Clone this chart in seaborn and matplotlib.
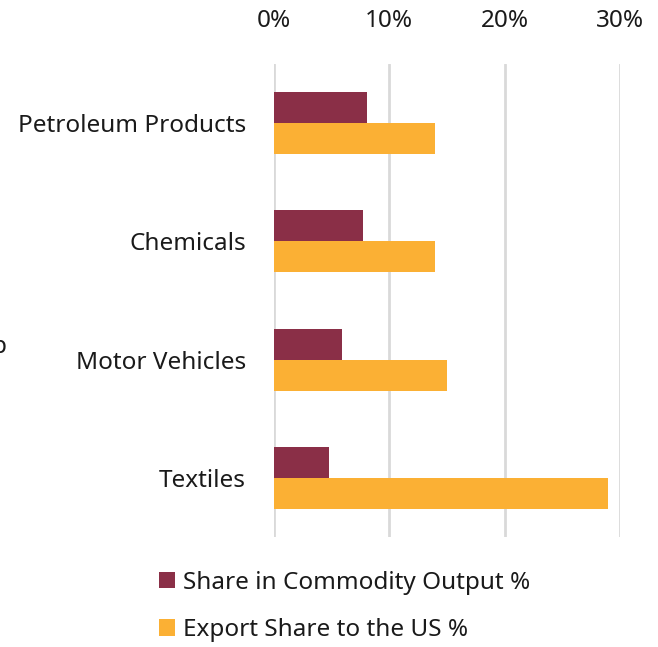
import matplotlib
matplotlib.use("Agg")
import matplotlib.pyplot as plt
import seaborn as sns
import pandas as pd
from matplotlib.patches import Patch
from matplotlib.ticker import FuncFormatter

categories = ["Petroleum Products", "Chemicals", "Motor Vehicles", "Textiles"]
series_names = ["Share in Commodity Output %", "Export Share to the US %"]
commodity_output = [8.1, 7.7, 5.9, 4.8]
export_us = [14.0, 14.0, 15.0, 29.0]
x_ticks = [0, 10, 20, 30]
colors = ["#8A2F47", "#FBB034"]

df = pd.DataFrame({
    "category": categories * 2,
    "series": [series_names[0]] * 4 + [series_names[1]] * 4,
    "value": commodity_output + export_us,
})

sns.set_theme(style="white")
plt.rcParams["font.family"] = ["Noto Sans", "DejaVu Sans"]

fig = plt.figure(figsize=(6.58, 6.47), dpi=100)
ax = fig.add_axes([274 / 658, 1 - 537 / 647, (620 - 274) / 658, (537 - 64) / 647])

sns.barplot(data=df, y="category", x="value", hue="series", order=categories,
            hue_order=series_names, palette=colors, orient="h", width=0.525,
            ax=ax, legend=False, saturation=1, linewidth=0)

ax.set_xlim(0, 30)
ax.set_ylim(3.5, -0.5)
ax.set_xticks(x_ticks)
ax.xaxis.tick_top()
ax.xaxis.set_major_formatter(FuncFormatter(lambda v, p: f"{v:.0f}%"))
ax.tick_params(axis="x", length=0, pad=22, labelsize=17.5, colors="#1a1a1a")
ax.tick_params(axis="y", length=0, pad=20, labelsize=17.5, colors="#1a1a1a")
ax.set_xlabel("")
ax.set_ylabel("")
ax.grid(axis="x", color="#d9d9d9", linewidth=2)
ax.set_axisbelow(True)
for s in ax.spines.values():
    s.set_visible(False)

handles = [Patch(facecolor=c, edgecolor="none") for c in colors]
fig.legend(handles, series_names, loc="upper left",
           bbox_to_anchor=(137 / 658, 1 - 549 / 647), frameon=False,
           fontsize=17.5, handlelength=0.65, handleheight=0.65, handletextpad=0.35,
           labelspacing=0.95, labelcolor="#1a1a1a")

fig.text(7 / 658, 1 - 347 / 647, "p", ha="right", va="center", fontsize=17.5, color="#1a1a1a")

fig.savefig("out.png", dpi=100)
